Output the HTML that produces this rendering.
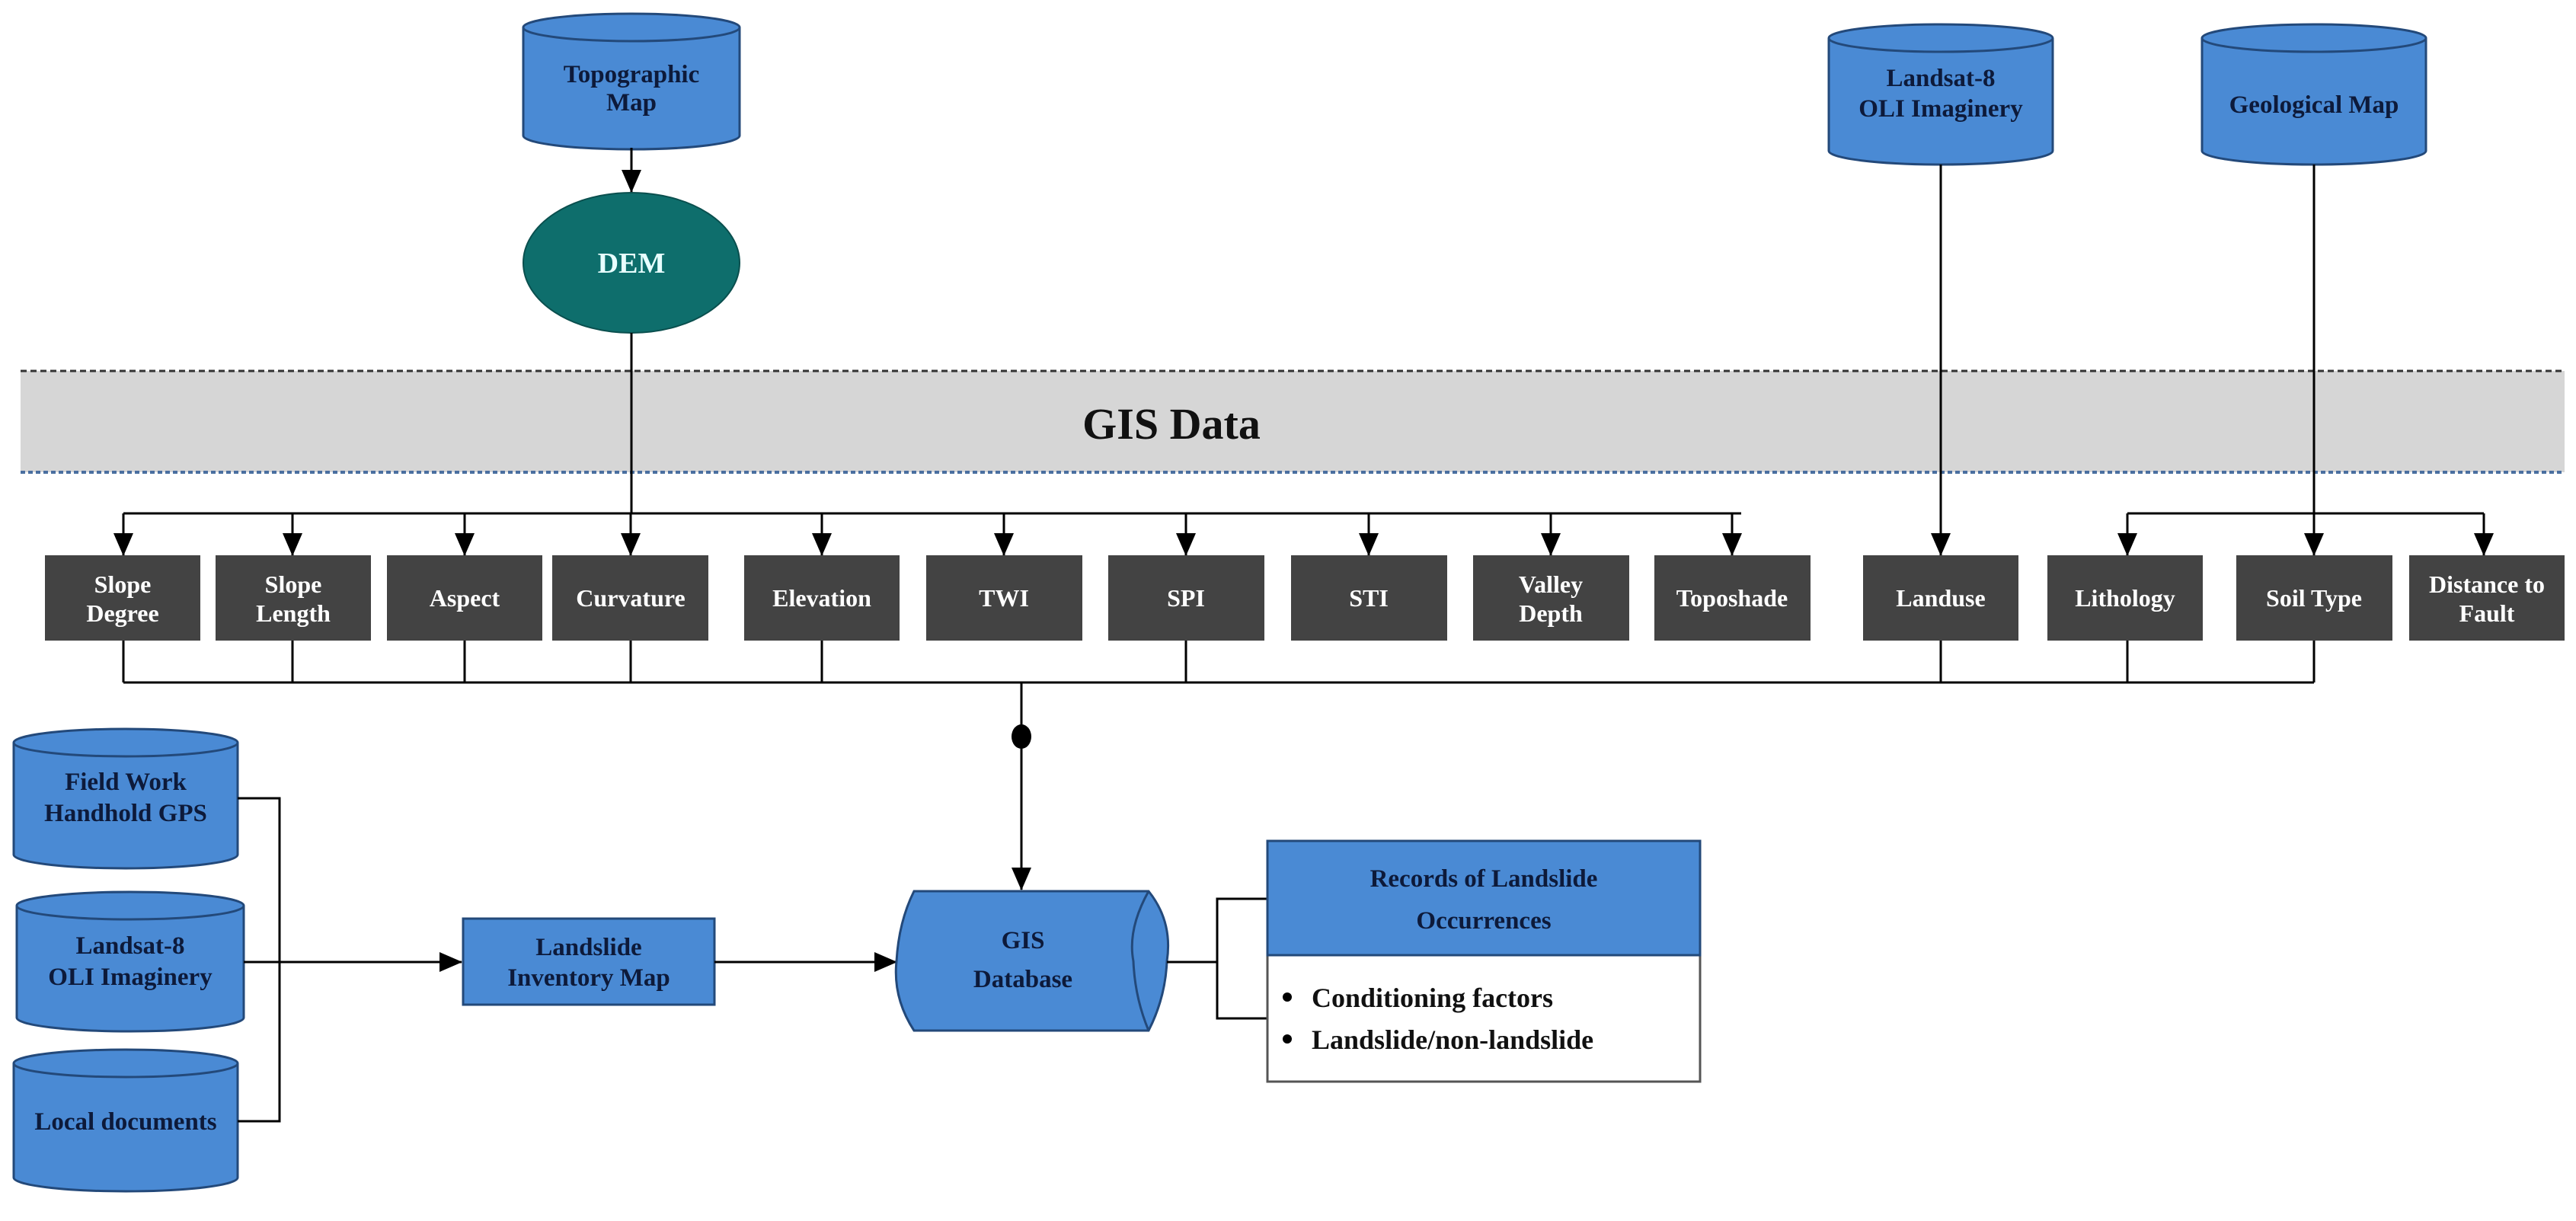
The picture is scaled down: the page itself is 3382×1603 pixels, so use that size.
<!DOCTYPE html>
<html><head><meta charset="utf-8"><style>
html,body{margin:0;padding:0;background:#fff}
svg{display:block}
text{font-family:"Liberation Serif",serif;font-weight:bold}
.bx{fill:#434343}
.bt{fill:#fff;font-size:32px;text-anchor:middle}
.ct{fill:#0d1a3a;font-size:33px;text-anchor:middle}
.cyl{fill:#4a8ad4;stroke:#23497a;stroke-width:3}
.ln{stroke:#000;stroke-width:3;fill:none}
</style></head><body>
<svg width="3382" height="1603" viewBox="0 0 3382 1603" xmlns="http://www.w3.org/2000/svg">
<defs>
<marker id="a" markerWidth="10" markerHeight="10" refX="9" refY="5" orient="auto" markerUnits="userSpaceOnUse" viewBox="0 0 10 10"><path d="M0,0 L10,5 L0,10 z" fill="#000"/></marker>
<marker id="A" markerWidth="30" markerHeight="30" refX="29" refY="15" orient="auto" markerUnits="userSpaceOnUse" viewBox="0 0 30 30"><path d="M0,2 L30,15 L0,28 z" fill="#000"/></marker>
</defs>

<!-- GIS band -->
<rect x="27" y="487" width="3340" height="133" fill="#d6d6d6"/>
<line x1="27" y1="487" x2="3367" y2="487" stroke="#333" stroke-width="3" stroke-dasharray="8,5"/>
<line x1="27" y1="620" x2="3367" y2="620" stroke="#4a6fa0" stroke-width="4" stroke-dasharray="6,4"/>
<text x="1538" y="576" font-size="58" text-anchor="middle" fill="#111">GIS Data</text>

<!-- top cylinders -->
<g>
<path class="cyl" d="M687,36 L687,178 A142,18 0 0 0 971,178 L971,36"/>
<ellipse class="cyl" cx="829" cy="36" rx="142" ry="18"/>
<text class="ct" x="829" y="108">Topographic</text>
<text class="ct" x="829" y="145">Map</text>
</g>
<g>
<path class="cyl" d="M2401,50 L2401,198 A147,18 0 0 0 2695,198 L2695,50"/>
<ellipse class="cyl" cx="2548" cy="50" rx="147" ry="18"/>
<text class="ct" x="2548" y="113">Landsat-8</text>
<text class="ct" x="2548" y="153">OLI Imaginery</text>
</g>
<g>
<path class="cyl" d="M2891,50 L2891,198 A147,18 0 0 0 3185,198 L3185,50"/>
<ellipse class="cyl" cx="3038" cy="50" rx="147" ry="18"/>
<text class="ct" x="3038" y="148">Geological Map</text>
</g>

<!-- DEM -->
<line class="ln" x1="829" y1="194" x2="829" y2="252" marker-end="url(#A)"/>
<ellipse cx="829" cy="345" rx="142" ry="92" fill="#0e6e6c" stroke="#0a4f4e" stroke-width="2"/>
<text x="829" y="358" font-size="38" fill="#e8ffff" text-anchor="middle">DEM</text>

<!-- connectors to boxes -->
<line class="ln" x1="829" y1="437" x2="829" y2="674"/>
<line class="ln" x1="162" y1="674" x2="2286" y2="674"/>
<g class="ln" marker-end="url(#A)">
<line x1="162" y1="674" x2="162" y2="729"/>
<line x1="384" y1="674" x2="384" y2="729"/>
<line x1="610" y1="674" x2="610" y2="729"/>
<line x1="828" y1="674" x2="828" y2="729"/>
<line x1="1079" y1="674" x2="1079" y2="729"/>
<line x1="1318" y1="674" x2="1318" y2="729"/>
<line x1="1557" y1="674" x2="1557" y2="729"/>
<line x1="1797" y1="674" x2="1797" y2="729"/>
<line x1="2036" y1="674" x2="2036" y2="729"/>
<line x1="2274" y1="674" x2="2274" y2="729"/>
<line x1="2548" y1="216" x2="2548" y2="729"/>
<line x1="3038" y1="216" x2="3038" y2="729"/>
<line x1="2793" y1="674" x2="2793" y2="729"/>
<line x1="3261" y1="674" x2="3261" y2="729"/>
</g>
<line class="ln" x1="2793" y1="674" x2="3261" y2="674"/>

<!-- boxes -->
<g>
<rect class="bx" x="59" y="729" width="204" height="112"/><text class="bt" x="161" y="778">Slope</text><text class="bt" x="161" y="816">Degree</text>
<rect class="bx" x="283" y="729" width="204" height="112"/><text class="bt" x="385" y="778">Slope</text><text class="bt" x="385" y="816">Length</text>
<rect class="bx" x="508" y="729" width="204" height="112"/><text class="bt" x="610" y="796">Aspect</text>
<rect class="bx" x="725" y="729" width="205" height="112"/><text class="bt" x="828" y="796">Curvature</text>
<rect class="bx" x="977" y="729" width="204" height="112"/><text class="bt" x="1079" y="796">Elevation</text>
<rect class="bx" x="1216" y="729" width="205" height="112"/><text class="bt" x="1318" y="796">TWI</text>
<rect class="bx" x="1455" y="729" width="205" height="112"/><text class="bt" x="1557" y="796">SPI</text>
<rect class="bx" x="1695" y="729" width="205" height="112"/><text class="bt" x="1797" y="796">STI</text>
<rect class="bx" x="1934" y="729" width="205" height="112"/><text class="bt" x="2036" y="778">Valley</text><text class="bt" x="2036" y="816">Depth</text>
<rect class="bx" x="2172" y="729" width="205" height="112"/><text class="bt" x="2274" y="796">Toposhade</text>
<rect class="bx" x="2446" y="729" width="204" height="112"/><text class="bt" x="2548" y="796">Landuse</text>
<rect class="bx" x="2688" y="729" width="204" height="112"/><text class="bt" x="2790" y="796">Lithology</text>
<rect class="bx" x="2936" y="729" width="205" height="112"/><text class="bt" x="3038" y="796">Soil Type</text>
<rect class="bx" x="3163" y="729" width="204" height="112"/><text class="bt" x="3265" y="778">Distance to</text><text class="bt" x="3265" y="816">Fault</text>
</g>

<!-- bottom bus -->
<g class="ln">
<line x1="162" y1="841" x2="162" y2="896"/>
<line x1="384" y1="841" x2="384" y2="896"/>
<line x1="610" y1="841" x2="610" y2="896"/>
<line x1="828" y1="841" x2="828" y2="896"/>
<line x1="1079" y1="841" x2="1079" y2="896"/>
<line x1="1557" y1="841" x2="1557" y2="896"/>
<line x1="2548" y1="841" x2="2548" y2="896"/>
<line x1="2793" y1="841" x2="2793" y2="896"/>
<line x1="3038" y1="841" x2="3038" y2="896"/>
<line x1="162" y1="896" x2="3038" y2="896"/>
<line x1="1341" y1="896" x2="1341" y2="1168" marker-end="url(#A)"/>
</g>
<ellipse cx="1341" cy="967" rx="13" ry="16" fill="#000"/>

<!-- left cylinders -->
<g>
<path class="cyl" d="M18,975 L18,1122 A147,18 0 0 0 312,1122 L312,975"/>
<ellipse class="cyl" cx="165" cy="975" rx="147" ry="18"/>
<text class="ct" x="165" y="1037">Field Work</text>
<text class="ct" x="165" y="1078">Handhold GPS</text>
</g>
<g>
<path class="cyl" d="M22,1189 L22,1336 A149,18 0 0 0 320,1336 L320,1189"/>
<ellipse class="cyl" cx="171" cy="1189" rx="149" ry="18"/>
<text class="ct" x="171" y="1252">Landsat-8</text>
<text class="ct" x="171" y="1293">OLI Imaginery</text>
</g>
<g>
<path class="cyl" d="M18,1396 L18,1546 A147,18 0 0 0 312,1546 L312,1396"/>
<ellipse class="cyl" cx="165" cy="1396" rx="147" ry="18"/>
<text class="ct" x="165" y="1483">Local documents</text>
</g>
<g class="ln">
<polyline points="312,1048 367,1048 367,1472 312,1472"/>
<line x1="320" y1="1263" x2="606" y2="1263" marker-end="url(#A)"/>
</g>

<!-- inventory -->
<rect x="608" y="1206" width="330" height="113" fill="#4a8ad4" stroke="#23497a" stroke-width="3"/>
<text class="ct" x="773" y="1254">Landslide</text>
<text class="ct" x="773" y="1294">Inventory Map</text>
<line class="ln" x1="938" y1="1263" x2="1177" y2="1263" marker-end="url(#A)"/>

<!-- GIS database -->
<path d="M1200,1170 L1508,1170 Q1540,1210 1532,1262 Q1530,1310 1508,1353 L1200,1353 Q1172,1310 1177,1262 Q1180,1210 1200,1170 z" fill="#4a8ad4" stroke="#23497a" stroke-width="3"/>
<path d="M1508,1170 Q1480,1220 1488,1262 Q1490,1310 1508,1353" fill="none" stroke="#23497a" stroke-width="3"/>
<text class="ct" x="1343" y="1245" font-size="40">GIS</text>
<text class="ct" x="1343" y="1296" font-size="40">Database</text>

<!-- records -->
<g class="ln">
<line x1="1532" y1="1263" x2="1598" y2="1263"/>
<polyline points="1664,1180 1598,1180 1598,1337 1664,1337"/>
</g>
<rect x="1664" y="1254" width="568" height="166" fill="#fff" stroke="#555" stroke-width="3"/>
<rect x="1664" y="1104" width="568" height="150" fill="#4a8ad4" stroke="#23497a" stroke-width="3"/>
<text class="ct" x="1948" y="1164" font-size="40">Records of Landslide</text>
<text class="ct" x="1948" y="1219" font-size="40">Occurrences</text>
<circle cx="1690" cy="1309" r="6" fill="#000"/>
<circle cx="1690" cy="1364" r="6" fill="#000"/>
<text x="1722" y="1322" font-size="36" fill="#111">Conditioning factors</text>
<text x="1722" y="1377" font-size="36" fill="#111">Landslide/non-landslide</text>
</svg>
</body></html>
